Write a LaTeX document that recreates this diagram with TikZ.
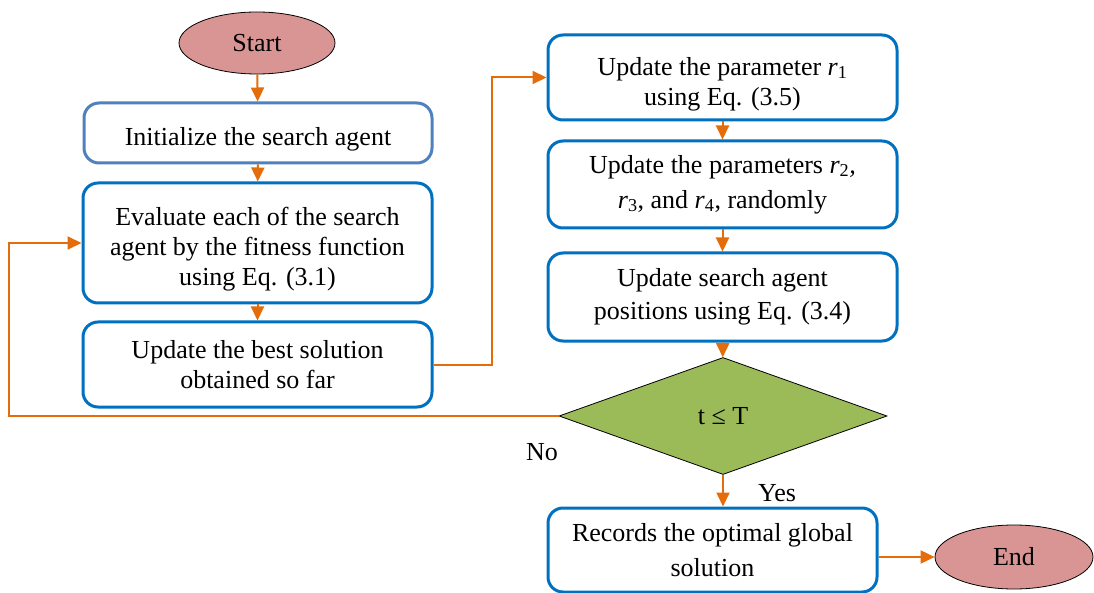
\documentclass[tikz,border=0pt]{standalone}
\usepackage{fontspec}
\setmainfont{Liberation Serif}
\usetikzlibrary{shapes.geometric,arrows.meta}
\definecolor{boxblue}{HTML}{0070C0}
\definecolor{lightblue}{HTML}{4F81BD}
\definecolor{arrorange}{HTML}{E46C0A}
\definecolor{termfill}{HTML}{D99594}
\definecolor{decfill}{HTML}{9BBB59}
\newcommand\downstrut{\rule{0pt}{31pt}}
\tikzset{
  stepbox/.style={draw=boxblue, line width=3pt, rounded corners=15pt, fill=white,
    align=center, font=\fontsize{26}{30}\selectfont, inner sep=0pt},
  term/.style={ellipse, draw=black, line width=0.8pt, fill=termfill, font=\fontsize{26}{30}\selectfont, inner sep=0pt},
  decision/.style={diamond, draw=black, line width=0.8pt, fill=decfill, font=\fontsize{26}{30}\selectfont, inner sep=0pt, aspect=2.8},
  flow/.style={draw=arrorange, line width=2pt, -{Triangle[length=14pt,width=13pt]}},
  lbl/.style={font=\fontsize{26}{30}\selectfont, inner sep=0pt},
}
\begin{document}
\begin{tikzpicture}[x=1pt,y=-1pt]
\useasboundingbox (0,0) rectangle (1094,593);
\node[term, minimum width=156pt, minimum height=62pt] (start) at (257,43) {Start};
\node[stepbox, draw=lightblue, minimum width=348pt, minimum height=60pt] (init) at (258,133) {\downstrut Initialize the search agent};
\node[stepbox, minimum width=349pt, minimum height=120pt] (eval) at (257.5,243) {\downstrut Evaluate each of the search\\agent by the fitness function\\using Eq. (3.1)};
\node[stepbox, minimum width=349pt, minimum height=85pt] (best) at (257.5,364.5) {Update the best solution\\obtained so far};
\node[stepbox, minimum width=349pt, minimum height=85pt] (r1) at (722.5,77.5) {\downstrut Update the parameter \textit{r}\textsubscript{1}\\using Eq. (3.5)};
\node[stepbox, minimum width=349pt, minimum height=87pt] (r2) at (722.5,184.5) {Update the parameters \textit{r}\textsubscript{2}\textit{,}\\[5pt]\textit{r}\textsubscript{3}, and \textit{r}\textsubscript{4}, randomly};
\node[stepbox, minimum width=349pt, minimum height=88pt] (r3) at (722.5,297) {Update search agent\\[3pt]positions using Eq. (3.4)};
\node[decision, minimum width=328pt, minimum height=117pt] (dec) at (723,416) {t ≤ T};
\node[stepbox, minimum width=329pt, minimum height=84pt] (rec) at (712.5,550) {Records the optimal global\\[5pt]solution};
\node[term, minimum width=158pt, minimum height=64pt] (end) at (1014,557) {End};
\node[lbl] (no) at (542,452) {No};
\node[lbl] (yes) at (777,493) {Yes};
\draw[flow] (start) -- (init);
\draw[flow] (init) -- (eval);
\draw[flow] (eval) -- (best);
\draw[flow] (best.east) -- ++(58,0) |- (r1.west);
\draw[flow] (r1) -- (r2);
\draw[flow] (r2) -- (r3);
\draw[flow] (r3) -- (dec);
\draw[flow] (dec.west) -- (9,416) |- (eval.west);
\draw[flow] (dec) -- (dec.south |- rec.north);
\draw[flow] (rec.east |- end) -- (end);
\end{tikzpicture}
\end{document}
